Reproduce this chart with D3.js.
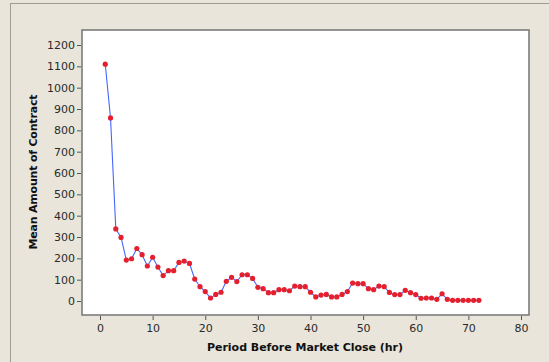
<!DOCTYPE html>
<html>
<head>
<meta charset="utf-8">
<script src="https://cdn.jsdelivr.net/npm/d3@7"></script>
<style>
  body { margin: 0; background: #e9e5db; }
  svg { display: block; }
  text { font-family: "DejaVu Sans", Verdana, sans-serif; }
</style>
</head>
<body>
<svg width="549" height="362"></svg>
<script>
const hours = d3.range(1, 73);
const meanAmount = [
  1110, 858, 338, 298, 192, 198, 246, 217, 164, 205,
  159, 119, 142, 142, 181, 187, 176, 103, 67, 44,
  14, 31, 41, 92, 111, 91, 123, 123, 106, 64,
  58, 39, 39, 53, 53, 48, 70, 67, 67, 41,
  19, 28, 31, 19, 19, 31, 44, 84, 81, 81,
  58, 53, 70, 67, 40, 30, 30, 50, 39, 30,
  13, 14, 14, 8, 34, 8, 3, 3, 3, 3,
  3, 3
];
const xTicks = d3.range(0, 81, 10);
const yTicks = d3.range(0, 1201, 100);

const svg = d3.select('svg');

// outer panel frame
svg.append('rect')
  .attr('x', 10.5).attr('y', 3.5)
  .attr('width', 560).attr('height', 380)
  .attr('fill', '#e9e5db')
  .attr('stroke', '#a09c94');

// plot area
const box = { left: 82, top: 30, right: 529, bottom: 315 };
svg.append('rect')
  .attr('x', box.left).attr('y', box.top)
  .attr('width', box.right - box.left).attr('height', box.bottom - box.top)
  .attr('fill', '#fff')
  .attr('stroke', '#7c7c7c')
  .attr('stroke-width', 1.6);

const x = d3.scaleLinear().domain([0, 80]).range([100, 521]);
const y = d3.scaleLinear().domain([0, 1200]).range([301, 45]);

const xAxis = svg.append('g')
  .attr('transform', `translate(0,${box.bottom + 1})`)
  .call(d3.axisBottom(x).tickValues(xTicks).tickFormat(d3.format('d')).tickSize(4).tickPadding(4));
xAxis.select('.domain').remove();

const yAxis = svg.append('g')
  .attr('transform', `translate(${box.left - 1},0)`)
  .call(d3.axisLeft(y).tickValues(yTicks).tickFormat(d3.format('d')).tickSize(4).tickPadding(2));
yAxis.select('.domain').remove();

svg.selectAll('.tick line').attr('stroke', '#555');
svg.selectAll('.tick text')
  .attr('fill', '#2a2a2a')
  .style('font-size', '11px')
  .style('font-family', '"DejaVu Sans", Verdana, sans-serif');

const points = hours.map((h, i) => [h, meanAmount[i]]);

svg.append('path')
  .datum(points)
  .attr('fill', 'none')
  .attr('stroke', '#4466ff')
  .attr('stroke-width', 1.1)
  .attr('d', d3.line().x(d => x(d[0])).y(d => y(d[1])));

svg.selectAll('circle.pt')
  .data(points)
  .enter()
    .append('circle')
    .attr('class', 'pt')
    .attr('cx', d => x(d[0]))
    .attr('cy', d => y(d[1]))
    .attr('r', 2.6)
    .attr('fill', '#e5202e');

svg.append('text')
  .attr('x', 305).attr('y', 351)
  .attr('text-anchor', 'middle')
  .attr('font-size', 11)
  .attr('font-weight', 'bold')
  .attr('fill', '#111')
  .attr('textLength', 196)
  .text('Period Before Market Close (hr)');

svg.append('text')
  .attr('transform', 'translate(37,172) rotate(-90)')
  .attr('text-anchor', 'middle')
  .attr('font-size', 11)
  .attr('font-weight', 'bold')
  .attr('fill', '#111')
  .attr('textLength', 155)
  .text('Mean Amount of Contract');
</script>
</body>
</html>
